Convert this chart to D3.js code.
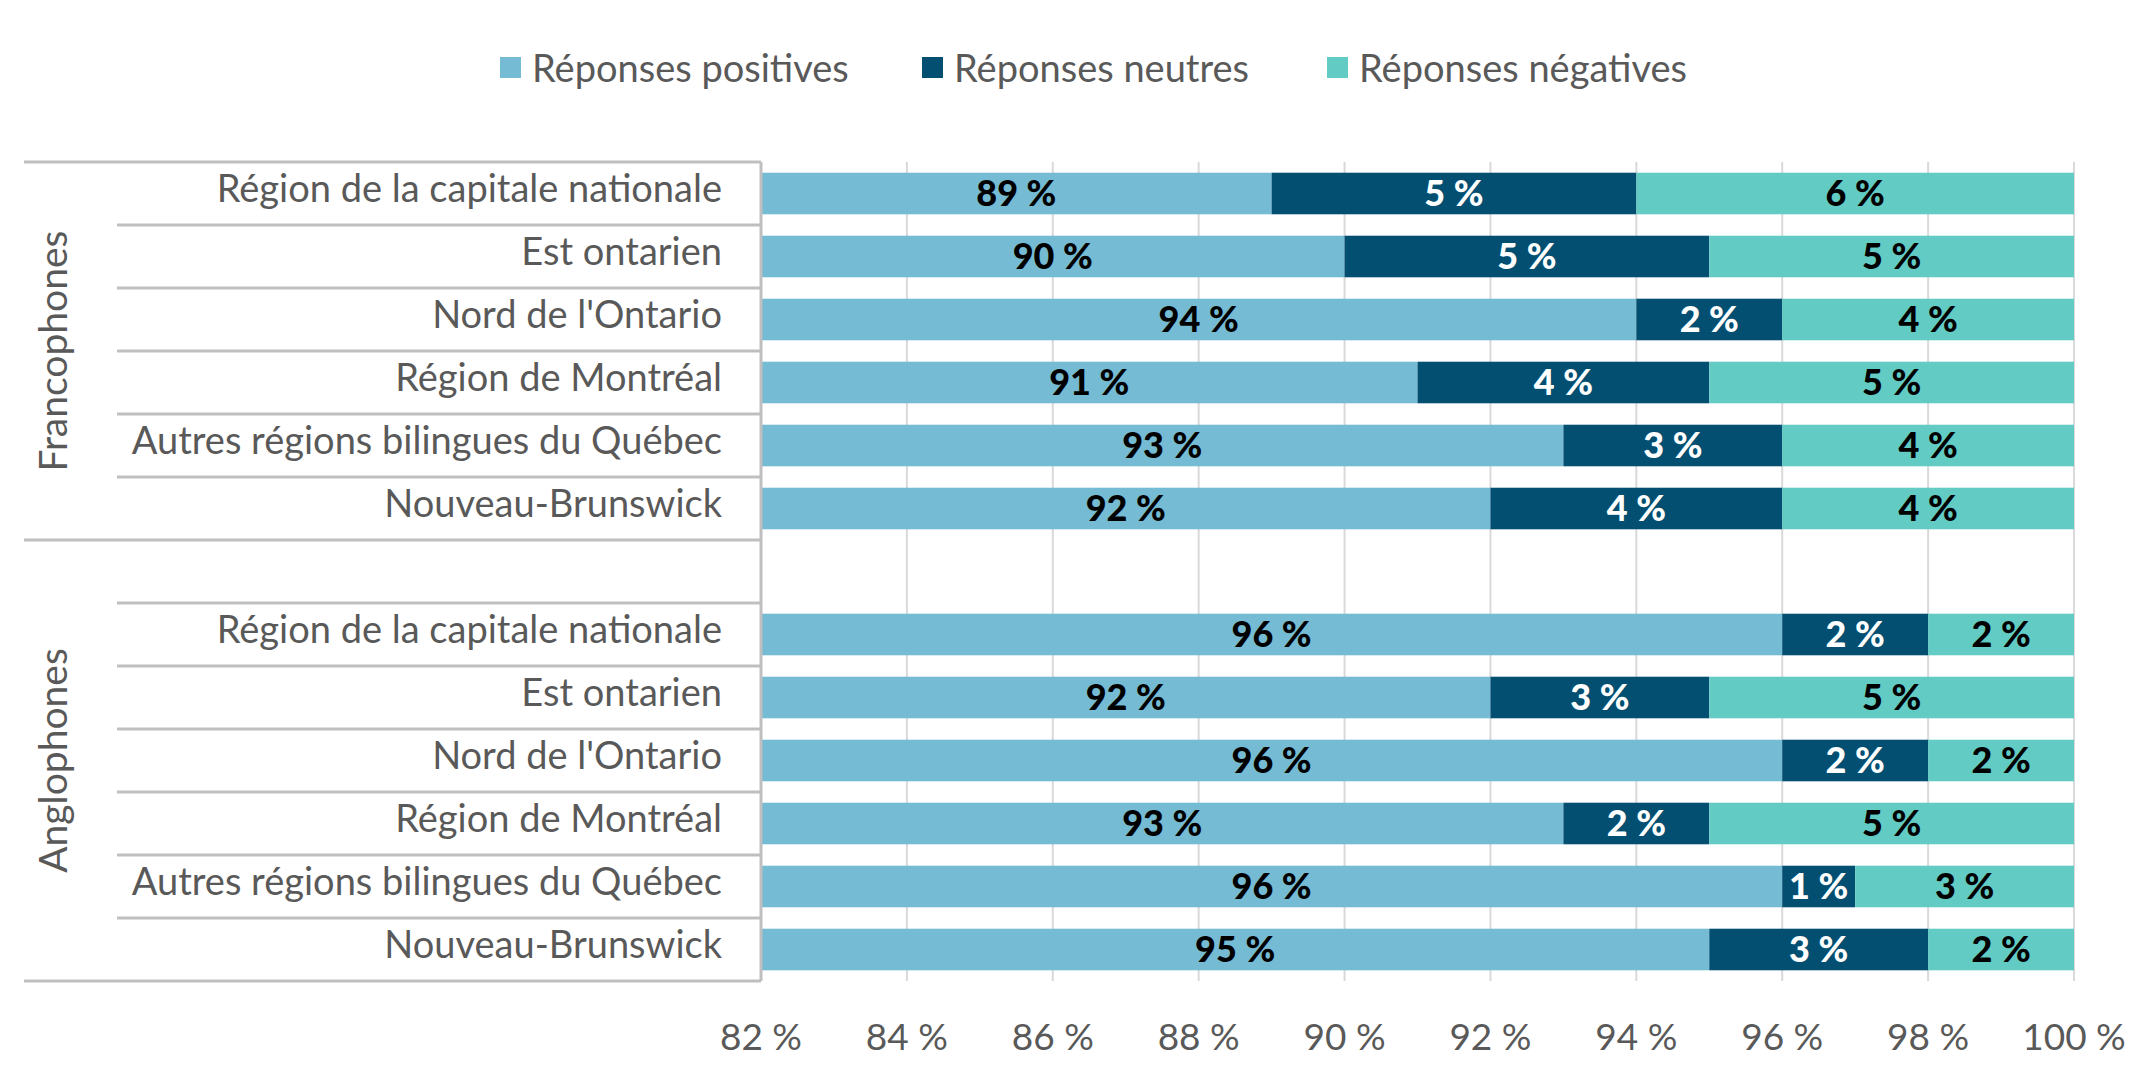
<!doctype html>
<html lang="fr">
<head>
<meta charset="UTF-8">
<title>Réponses par région</title>
<script src="https://cdn.jsdelivr.net/npm/d3@7"></script>
<style>
  body { margin: 0; background: #fff; }
  text { font-family: Lato, "Open Sans", sans-serif; }
</style>
</head>
<body>
<div id="chart"></div>
<script>
// the data
var regions = ["Région de la capitale nationale", "Est ontarien", "Nord de l'Ontario",
               "Région de Montréal", "Autres régions bilingues du Québec", "Nouveau-Brunswick"];
var groups = ["Francophones", "Anglophones"];
var positives = [[89, 90, 94, 91, 93, 92], [96, 92, 96, 93, 96, 95]];
var neutres   = [[5, 5, 2, 4, 3, 4],       [2, 3, 2, 2, 1, 3]];
var negatives = [[6, 5, 4, 5, 4, 4],       [2, 5, 2, 5, 3, 2]];
var seriesNames = ["Réponses positives", "Réponses neutres", "Réponses négatives"];
var colors = ["#74BBD3", "#024F72", "#61CBC4"];
var labelColors = ["#000", "#fff", "#000"];
var xTicks = [82, 84, 86, 88, 90, 92, 94, 96, 98, 100];

var W = 2145, H = 1081;
// (don't call it "top", that's window.top)
var pLeft = 761, pRight = 2074, pTop = 162, pBottom = 981;

// rows: 6 franco, one blank, 6 anglo
var rows = [];
regions.forEach(function(r, i){ rows.push({key: "f" + i, group: 0, idx: i, name: r}); });
rows.push({key: "gap", group: 1, idx: -1, name: ""});
regions.forEach(function(r, i){ rows.push({key: "a" + i, group: 1, idx: i, name: r}); });

var x = d3.scaleLinear().domain([82, 100]).range([pLeft, pRight]);
var y = d3.scaleBand().domain(rows.map(function(d){ return d.key; }))
  .range([pTop, pBottom]).paddingInner(0.34).paddingOuter(0.17);
var slot = y.step();

var svg = d3.select("#chart").append("svg").attr("width", W).attr("height", H);

// grid
svg.selectAll(".grid").data(xTicks.slice(1)).enter().append("line")
  .attr("x1", function(d){ return x(d); }).attr("x2", function(d){ return x(d); })
  .attr("y1", pTop).attr("y2", pBottom)
  .attr("stroke", "#D9D9D9").attr("stroke-width", 2);

// stacked segments
var segs = [];
rows.forEach(function(r){
  if (r.idx < 0) return;
  var vals = [positives[r.group][r.idx], neutres[r.group][r.idx], negatives[r.group][r.idx]];
  var start = 0;
  vals.forEach(function(v, s){
    segs.push({key: r.key, s: s, v: v, x0: start, x1: start + v});
    start += v;
  });
});

svg.selectAll(".seg").data(segs).enter().append("rect")
  .attr("x", function(d){ return x(Math.max(d.x0, 82)); })
  .attr("width", function(d){ return x(d.x1) - x(Math.max(d.x0, 82)); })
  .attr("y", function(d){ return y(d.key); })
  .attr("height", y.bandwidth())
  .attr("fill", function(d){ return colors[d.s]; });

svg.selectAll(".val").data(segs).enter().append("text")
  .attr("x", function(d){ return (x(Math.max(d.x0, 82)) + x(d.x1)) / 2; })
  .attr("y", function(d){ return y(d.key) + y.bandwidth() / 2; })
  .attr("dy", "0.36em")
  .attr("text-anchor", "middle")
  .attr("font-size", 36).attr("font-weight", 900)
  .attr("fill", function(d){ return labelColors[d.s]; })
  .text(function(d){ return d.v + " %"; });

// category axis lines
var axisCol = "#BFBFBF";
svg.append("line").attr("x1", pLeft).attr("x2", pLeft).attr("y1", pTop).attr("y2", pBottom)
  .attr("stroke", axisCol).attr("stroke-width", 3);
rows.forEach(function(r, i){
  var yy = pTop + i * slot;
  var long = (i === 0 || i === 6);
  svg.append("line").attr("x1", long ? 24 : 117).attr("x2", pLeft)
    .attr("y1", yy).attr("y2", yy).attr("stroke", axisCol).attr("stroke-width", 3);
});
svg.append("line").attr("x1", 24).attr("x2", pLeft).attr("y1", pBottom).attr("y2", pBottom)
  .attr("stroke", axisCol).attr("stroke-width", 3);

svg.selectAll(".cat").data(rows.filter(function(r){ return r.idx >= 0; })).enter().append("text")
  .attr("x", 722)
  .attr("y", function(d){ return y(d.key) + y.bandwidth() / 2 - 5; })
  .attr("dy", "0.36em")
  .attr("text-anchor", "end")
  .attr("font-size", 38).attr("fill", "#595959")
  .text(function(d){ return d.name; });

// group labels
var groupSpan = [[pTop, pTop + 6 * slot], [pTop + 6 * slot, pBottom]];
groups.forEach(function(g, i){
  var cy = (groupSpan[i][0] + groupSpan[i][1]) / 2;
  svg.append("text")
    .attr("transform", "translate(53," + cy + ") rotate(-90)")
    .attr("dy", "0.36em").attr("text-anchor", "middle")
    .attr("font-size", 39).attr("fill", "#595959")
    .text(g);
});

// x axis labels
svg.selectAll(".tick").data(xTicks).enter().append("text")
  .attr("x", function(d){ return x(d); })
  .attr("y", 1037).attr("dy", "0.36em")
  .attr("text-anchor", "middle")
  .attr("font-size", 37).attr("fill", "#595959")
  .text(function(d){ return d + " %"; });

// legend
var legendX = [500, 922, 1327];
var leg = svg.selectAll(".leg").data(seriesNames).enter().append("g")
  .attr("transform", function(d, i){ return "translate(" + legendX[i] + ",68)"; });
leg.append("rect").attr("x", 0).attr("y", -11).attr("width", 21).attr("height", 21)
  .attr("fill", function(d, i){ return colors[i]; });
leg.append("text").attr("x", 32).attr("dy", "0.36em")
  .attr("font-size", 38).attr("fill", "#595959")
  .text(function(d){ return d; });
</script>
</body>
</html>
